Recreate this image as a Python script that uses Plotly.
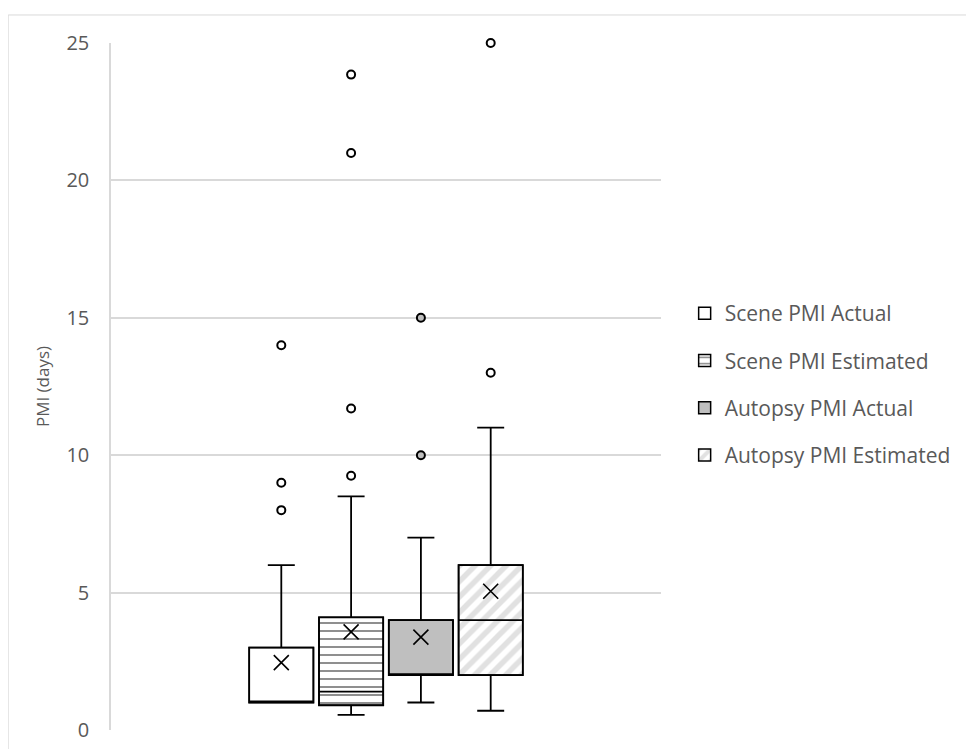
import plotly.graph_objects as go

# ---- data ----
series_names = ["Scene PMI Actual", "Scene PMI Estimated", "Autopsy PMI Actual", "Autopsy PMI Estimated"]
lower_whisker = [1.0, 0.55, 1.0, 0.7]
q1_vals = [1.0, 0.9, 2.0, 2.0]
median_vals = [1.0, 1.4, 2.0, 4.0]
q3_vals = [3.0, 4.1, 4.0, 6.0]
upper_whisker = [6.0, 8.5, 7.0, 11.0]
mean_vals = [2.45, 3.57, 3.38, 5.05]
outliers = [
    [8.0, 9.0, 14.0],
    [9.25, 11.7, 21.0, 23.85],
    [10.0, 15.0],
    [13.0, 25.0],
]
y_ticks = [0, 5, 10, 15, 20, 25]

# ---- styling ----
positions = [1, 2, 3, 4]
box_width = 0.92
fills = ["white", "white", "#bfbfbf", "white"]
patterns = [
    dict(shape=""),
    dict(shape="-", fgcolor="black", bgcolor="white", size=8, solidity=0.22),
    dict(shape=""),
    dict(shape="/", fgcolor="#c4c4c4", bgcolor="white", size=11, solidity=0.5),
]
out_fill = ["white", "white", "#bfbfbf", "white"]

fig = go.Figure()

# patterned box bodies (also used for legend)
for i, name in enumerate(series_names):
    fig.add_trace(go.Bar(
        x=[positions[i]], y=[q3_vals[i] - q1_vals[i]], base=[q1_vals[i]],
        width=box_width, name=name, legendgroup=name,
        marker=dict(color=fills[i], pattern=patterns[i],
                    line=dict(color="black", width=1.5)),
        hoverinfo="skip", showlegend=True,
    ))

# box outlines, medians and whiskers
for i, name in enumerate(series_names):
    fig.add_trace(go.Box(
        x=[positions[i]], q1=[q1_vals[i]], median=[median_vals[i]], q3=[q3_vals[i]],
        lowerfence=[lower_whisker[i]], upperfence=[upper_whisker[i]],
        width=box_width, whiskerwidth=0.42,
        fillcolor="rgba(0,0,0,0)", line=dict(color="black", width=1.8),
        boxpoints=False, showlegend=False, legendgroup=name, name=name,
    ))

# outliers
for i, name in enumerate(series_names):
    fig.add_trace(go.Scatter(
        x=[positions[i]] * len(outliers[i]), y=outliers[i], mode="markers",
        marker=dict(symbol="circle", size=8, color=out_fill[i],
                    line=dict(color="black", width=2)),
        showlegend=False, legendgroup=name, cliponaxis=False,
    ))

# means
for i, name in enumerate(series_names):
    fig.add_trace(go.Scatter(
        x=[positions[i]], y=[mean_vals[i]], mode="markers",
        marker=dict(symbol="x-thin", size=15, line=dict(color="black", width=1.6)),
        showlegend=False, legendgroup=name,
    ))

fig.update_layout(
    width=974, height=749,
    margin=dict(l=103, r=321, t=35, b=27),
    paper_bgcolor="white", plot_bgcolor="white",
    barmode="overlay", boxmode="overlay",
    font=dict(family="Open Sans, Calibri, sans-serif", color="#595959", size=20),
    xaxis=dict(range=[-1.44, 6.44], showticklabels=False, showgrid=False,
               zeroline=False, showline=False, ticks=""),
    yaxis=dict(range=[0, 25], tickvals=y_ticks, showgrid=True, gridcolor="#d9d9d9",
               gridwidth=1.5, zeroline=False, showline=True, linecolor="#d9d9d9",
               linewidth=1.5, ticks="outside", ticklen=16, tickcolor="rgba(0,0,0,0)",
               tickfont=dict(size=20, color="#595959"),
               title=dict(text="PMI (days)", font=dict(size=17, color="#595959"), standoff=12)),
    legend=dict(x=1.043, y=0.636, xanchor="left", yanchor="top",
                traceorder="grouped", tracegroupgap=17,
                font=dict(size=21, color="#595959"), bgcolor="rgba(0,0,0,0)"),
    shapes=[dict(type="rect", xref="paper", yref="paper",
                 x0=-0.187, x1=1.7, y0=-0.2, y1=1.0408,
                 line=dict(color="#d9d9d9", width=1), fillcolor="rgba(0,0,0,0)", layer="below")],
)

fig.write_html("out.html")
